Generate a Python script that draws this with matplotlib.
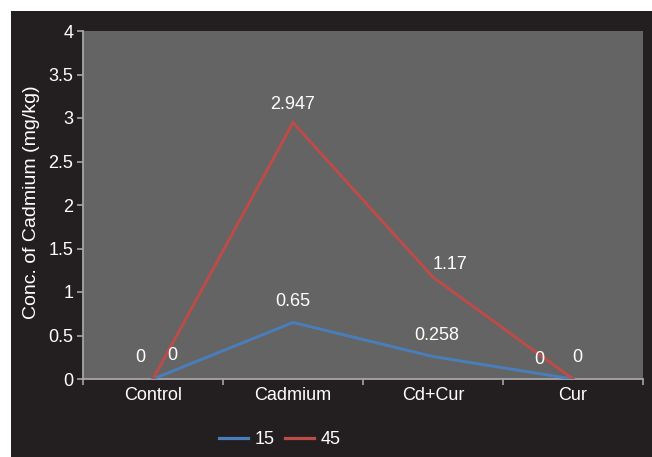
import matplotlib
matplotlib.use("Agg")
import matplotlib.pyplot as plt
from matplotlib.patches import Rectangle

# Data
categories = ["Control", "Cadmium", "Cd+Cur", "Cur"]
series_names = ["15", "45"]
values_15 = [0, 0.65, 0.258, 0]
values_45 = [0, 2.947, 1.17, 0]
y_ticks = [0, 0.5, 1, 1.5, 2, 2.5, 3, 3.5, 4]
y_tick_labels = ["0", "0.5", "1", "1.5", "2", "2.5", "3", "3.5", "4"]

plt.rcParams['font.family'] = ['Liberation Sans', 'DejaVu Sans']
FS = 13

W, H = 652, 457
fig = plt.figure(figsize=(W / 100, H / 100), dpi=100)
fig.patch.set_facecolor("white")

# dark chart-area panel
fig.patches.append(Rectangle((11 / W, 0), 1 - 11 / W, 1 - 11 / H,
                             transform=fig.transFigure, facecolor="#231f20",
                             edgecolor="none", zorder=-10))

ax = fig.add_axes([83 / W, 1 - 379 / H, (643 - 83) / W, (379 - 31) / H])
ax.set_zorder(1)
ax.set_facecolor("#646464")

x = list(range(len(categories)))
blue = "#4a7ebb"
red = "#be4b48"
ax.plot(x, values_15, color=blue, lw=2.1, label=series_names[0], zorder=3,
        solid_joinstyle="miter")
ax.plot(x, values_45, color=red, lw=2.1, label=series_names[1], zorder=3,
        solid_joinstyle="miter")

ax.set_xlim(-0.5, len(categories) - 0.5)
ax.set_ylim(0, 4)
ax.set_yticks(y_ticks)
ax.set_yticklabels(y_tick_labels)
ax.set_xticks(x)
ax.set_xticklabels(categories)
ax.set_xticks([i - 0.5 for i in range(len(categories) + 1)], minor=True)

axis_grey = "#a6a6a6"
for s in ["top", "right"]:
    ax.spines[s].set_visible(False)
for s in ["left", "bottom"]:
    ax.spines[s].set_color(axis_grey)
    ax.spines[s].set_linewidth(1.3)

ax.tick_params(axis="y", direction="out", length=4, width=1.2, color=axis_grey,
               labelcolor="white", pad=3, labelsize=FS)
ax.tick_params(axis="x", which="major", length=0, labelcolor="white", pad=6,
               labelsize=FS)
ax.tick_params(axis="x", which="minor", direction="out", length=4, width=1.2,
               color=axis_grey)

# value labels (offsets in pixels)
offsets_15 = [(-13, 21), (0, 21), (4, 21), (-34, 20)]
offsets_45 = [(19, 23), (0, 18), (17, 13), (4, 22)]
for vals, offs in ((values_15, offsets_15), (values_45, offsets_45)):
    for xi, v, (dx, dy) in zip(x, vals, offs):
        ax.annotate(f"{v:g}", (xi, v), xytext=(dx, dy), textcoords="offset pixels",
                    ha="center", va="center", color="white", fontsize=FS,
                    annotation_clip=False, zorder=4)

fig.text(31 / W, 1 - 202 / H, "Conc. of Cadmium (mg/kg)", rotation=90,
         ha="center", va="center", color="white", fontsize=14)

leg = fig.legend(loc="center", bbox_to_anchor=(280 / W, 1 - 440 / H),
                 ncol=2, frameon=False, fontsize=FS, handlelength=1.6,
                 handletextpad=0.35, columnspacing=0.6)
for t in leg.get_texts():
    t.set_color("white")
for h in leg.get_lines():
    h.set_linewidth(2.3)

fig.savefig("out.png", dpi=100, facecolor=fig.get_facecolor())
